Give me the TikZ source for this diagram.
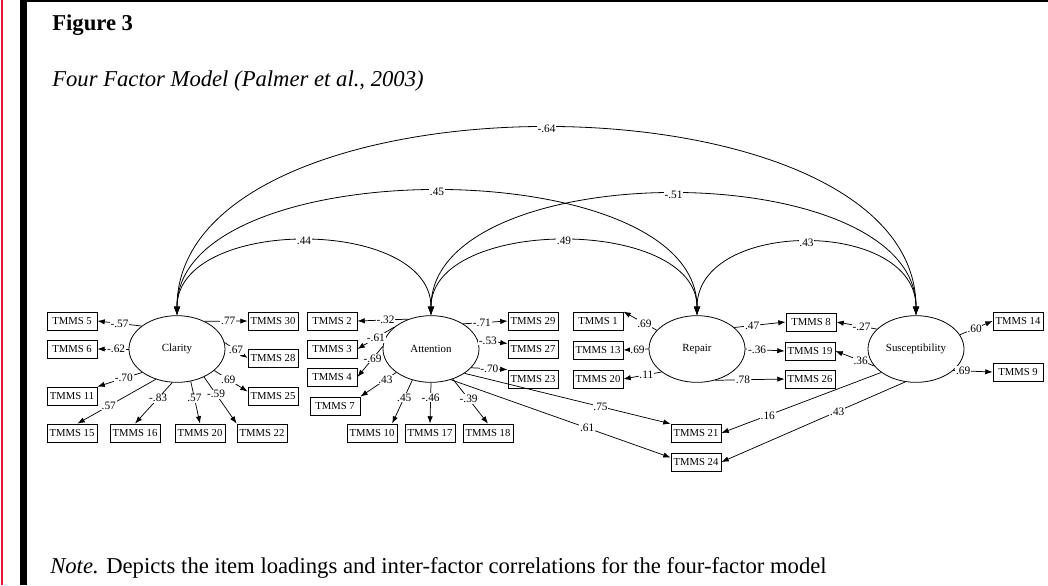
\documentclass[tikz,border=0pt]{standalone}
\usepackage{fontspec}
\setmainfont{Liberation Serif}
\usetikzlibrary{shapes.geometric,arrows.meta}
\definecolor{margin}{RGB}{232,20,60}
\begin{document}
\begin{tikzpicture}[x=0.75pt,y=-0.75pt,
  itembox/.style={draw,line width=0.6pt,minimum width=37.5pt,minimum height=13.5pt,inner sep=0pt,font=\fontsize{8}{9}\selectfont},
  factor/.style={draw,ellipse,line width=0.6pt,minimum width=72pt,minimum height=50pt,inner sep=0pt,font=\fontsize{8.2}{9}\selectfont},
  load/.style={-{Latex[length=5.5pt,width=4pt]},line width=0.55pt},
  corr/.style={{Latex[length=6.5pt,width=5pt]}-{Latex[length=6.5pt,width=5pt]},line width=0.6pt},
  num/.style={fill=white,inner sep=0.6pt,font=\fontsize{8.5}{9}\selectfont},
  caption/.style={anchor=base west,inner sep=0pt,font=\fontsize{17}{20}\selectfont}]
\useasboundingbox (0,0) rectangle (1048,585);
% page edge
\fill[margin] (0.5,0) rectangle (3,585);
\fill (20,0) rectangle (27,585);
\fill (20,0) rectangle (1048,2);
% caption
\node[caption,font=\fontsize{17}{20}\selectfont\bfseries] (fig) at (52,31) {Figure 3};
\node[caption,font=\fontsize{17}{20}\selectfont\itshape] (title) at (52,86) {Four Factor Model (Palmer et al., 2003)};
\node[caption] (note) at (50,573) {\textit{Note.} Depicts the item loadings and inter-factor correlations for the four-factor model};
% factors
\node[factor] (Cl) at (177,349) {Clarity};
\node[factor] (At) at (431,349) {Attention};
\node[factor] (Re) at (697,349) {Repair};
\node[factor] (Su) at (916,349) {Susceptibility};
% items
\node[itembox] (c5) at (72,321) {TMMS 5};
\node[itembox] (c6) at (72,349) {TMMS 6};
\node[itembox] (c11) at (72,396) {TMMS 11};
\node[itembox] (c15) at (72,433) {TMMS 15};
\node[itembox] (c16) at (135,433) {TMMS 16};
\node[itembox] (c20) at (200,433) {TMMS 20};
\node[itembox] (c22) at (262,433) {TMMS 22};
\node[itembox] (c30) at (273,321) {TMMS 30};
\node[itembox] (c28) at (273,358) {TMMS 28};
\node[itembox] (c25) at (273,396) {TMMS 25};
\node[itembox] (a2) at (332,321) {TMMS 2};
\node[itembox] (a3) at (332,349) {TMMS 3};
\node[itembox] (a4) at (332,377) {TMMS 4};
\node[itembox] (a7) at (335,406) {TMMS 7};
\node[itembox] (a10) at (372,433) {TMMS 10};
\node[itembox] (a17) at (430,433) {TMMS 17};
\node[itembox] (a18) at (488,433) {TMMS 18};
\node[itembox] (a29) at (533,321) {TMMS 29};
\node[itembox] (a27) at (533,349) {TMMS 27};
\node[itembox] (a23) at (533,379) {TMMS 23};
\node[itembox] (r1) at (598,321) {TMMS 1};
\node[itembox] (r13) at (598,350) {TMMS 13};
\node[itembox] (r20) at (598,379) {TMMS 20};
\node[itembox] (r8) at (811,322) {TMMS 8};
\node[itembox] (r19) at (810,351) {TMMS 19};
\node[itembox] (r26) at (810,379) {TMMS 26};
\node[itembox] (x21) at (696,433) {TMMS 21};
\node[itembox] (x24) at (696,462) {TMMS 24};
\node[itembox] (s14) at (1018,321) {TMMS 14};
\node[itembox] (s9) at (1018,372) {TMMS 9};
% loadings: Clarity
\draw[load] (Cl.147) -- node[num,pos=.5]{-.57} (c5.east);
\draw[load] (Cl.180) -- node[num,pos=.4]{-.62} (c6.east);
\draw[load] (Cl.214) -- node[num,pos=.41]{-.70} (c11.north east);
\draw[load] (Cl.235) -- node[num,pos=.6]{.57} (c15.60);
\draw[load] (Cl.262) -- node[num,pos=.38]{-.83} (c16.north);
\draw[load] (Cl.293) -- node[num,pos=.4]{.57} (c20.north);
\draw[load] (Cl.314) -- node[num,pos=.37]{-.59} (c22.north west);
\draw[load] (Cl.330) -- node[num,pos=.42]{.69} (c25.170);
\draw[load] (Cl.8) -- node[num,pos=.5]{.67} (c28.west);
\draw[load] (Cl.45) -- node[num,pos=.55]{.77} (c30.west);
% loadings: Attention
\draw[load] (At.127) -- node[num,pos=.45]{-.32} (a2.east);
\draw[load] (At.149) -- node[num,pos=.5]{-.61} (a3.east);
\draw[load] (At.177) -- node[num,pos=.4]{-.69} (a4.east);
\draw[load] (At.214) -- node[num,pos=.3]{.43} (a7.north east);
\draw[load] (At.239) -- node[num,pos=.4]{.45} (a10.25);
\draw[load] (At.270) -- node[num,pos=.36]{-.46} (a17.north);
\draw[load] (At.306) -- node[num,pos=.45]{-.39} (a18.north);
\draw[load] (At.38) -- node[num,pos=.42]{-.71} (a29.west);
\draw[load] (At.12) -- node[num,pos=.35]{-.53} (a27.168);
\draw[load] (At.335) -- node[num,pos=.5]{-.70} (a23.north west);
\draw[load] (At.324) -- node[num,pos=.66]{.75} (x21.160);
\draw[load] (At.303) -- node[num,pos=.62]{.61} (x24.170);
% loadings: Repair
\draw[load] (Re.155) -- node[num,pos=.37]{.69} (r1.north east);
\draw[load] (Re.180) -- node[num,pos=.44]{.69} (r13.east);
\draw[load] (Re.213) -- node[num,pos=.4]{.11} (r20.east);
\draw[load] (Re.30) -- node[num,pos=.35]{.47} (r8.west);
\draw[load] (Re.0) -- node[num,pos=.3]{-.36} (r19.west);
\draw[load] (Re.300) -- node[num,pos=.4]{.78} (r26.west);
% loadings: Susceptibility
\draw[load] (Su.153) -- node[num,pos=.38]{-.27} (r8.east);
\draw[load] (Su.202) -- node[num,pos=.35]{.36} (r19.east);
\draw[load] (Su.18) -- node[num,pos=.45]{.60} (s14.west);
\draw[load] (Su.330) -- node[num,pos=.25]{.69} (s9.west);
\draw[load] (Su.214) -- node[num,pos=.71]{.16} (x21.east);
\draw[load] (Su.252) -- node[num,pos=.37]{.43} (x24.east);
% inter-factor correlations
\draw[corr] (Cl.north) .. controls +(0,-99) and +(0,-99) .. node[num]{.44} (At.north);
\draw[corr] (Cl.north) .. controls +(0,-165) and +(0,-165) .. node[num]{.45} (Re.north);
\draw[corr] (Cl.north) .. controls +(0,-249) and +(0,-249) .. node[num]{-.64} (Su.north);
\draw[corr] (At.north) .. controls +(0,-99) and +(0,-99) .. node[num]{.49} (Re.north);
\draw[corr] (At.north) .. controls +(0,-161) and +(0,-161) .. node[num]{-.51} (Su.north);
\draw[corr] (Re.north) .. controls +(0,-97) and +(0,-97) .. node[num]{.43} (Su.north);
\end{tikzpicture}
\end{document}
